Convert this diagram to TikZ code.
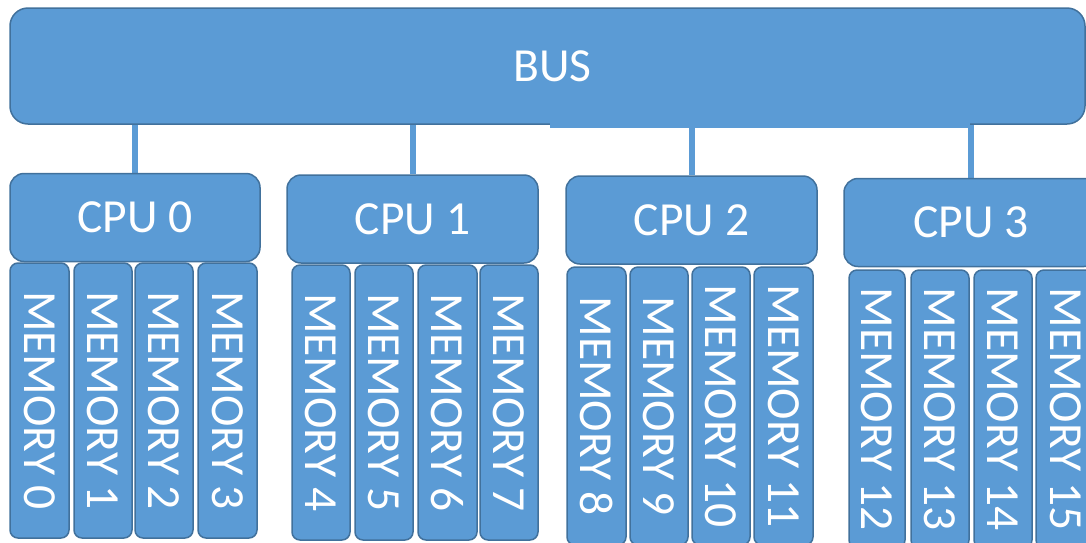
\documentclass[tikz,border=0pt]{standalone}
\usepackage{fontspec}
\setmainfont{Carlito}
\usetikzlibrary{backgrounds}
\definecolor{boxfill}{HTML}{5B9BD5}
\definecolor{boxedge}{HTML}{41719C}
\begin{document}
\begin{tikzpicture}[x=1pt,y=-1pt,
  box/.style={draw=boxedge, fill=boxfill, line width=1.5pt, text=white,
    inner sep=0pt, font=\fontsize{47.5}{52}\selectfont},
  busbox/.style={box, rounded corners=18pt, minimum width=1075pt, minimum height=116pt},
  cpubox/.style={box, rounded corners=14pt, minimum height=88pt},
  membox/.style={box, rounded corners=8pt, rotate=-90, minimum height=58pt},
  conn/.style={draw=boxfill, line width=6pt}]
\useasboundingbox (0,0) rectangle (1086,542);
\clip (0,0) rectangle (1086,542);

\node[busbox] (bus) at (547.5,66) {\hspace{10pt}BUS};
\fill[boxfill] (550,119) rectangle (970,128);

\node[cpubox, minimum width=250pt] (cpu0) at (135,217.5) {CPU 0};
\node[cpubox, minimum width=251pt] (cpu1) at (412.5,219) {CPU 1};
\node[cpubox, minimum width=251pt] (cpu2) at (691.5,220) {CPU 2};
\node[cpubox, minimum width=254pt] (cpu3) at (971,222.5) {CPU 3};

\begin{pgfonlayer}{background}
\foreach \c in {cpu0,cpu1,cpu2,cpu3}
  \draw[conn] (bus.south -| \c.north) -- (\c.north);
\end{pgfonlayer}

\node[membox, minimum width=275pt, minimum height=59pt] (m0) at (39.5,400.5) {MEMORY 0};
\node[membox, minimum width=275pt] (m1) at (103,400.5) {MEMORY 1};
\node[membox, minimum width=275pt] (m2) at (164,400.5) {MEMORY 2};
\node[membox, minimum width=275pt, minimum height=59pt] (m3) at (227.5,400.5) {MEMORY 3};

\node[membox, minimum width=275pt] (m4) at (321,402.5) {MEMORY 4};
\node[membox, minimum width=275pt] (m5) at (384,402.5) {MEMORY 5};
\node[membox, minimum width=275pt, minimum height=59pt] (m6) at (447.5,402.5) {MEMORY 6};
\node[membox, minimum width=275pt] (m7) at (509,402.5) {MEMORY 7};

\node[membox, minimum width=278pt, minimum height=59pt] (m8) at (596.5,406) {MEMORY 8};
\node[membox, minimum width=278pt] (m9) at (659,406) {MEMORY 9};
\node[membox, minimum width=278pt] (m10) at (721,406) {MEMORY 10};
\node[membox, minimum width=278pt, minimum height=59pt] (m11) at (783.5,406) {MEMORY 11};

\node[membox, minimum width=278pt, minimum height=56pt] (m12) at (877,409) {MEMORY 12};
\node[membox, minimum width=278pt] (m13) at (940,409) {MEMORY 13};
\node[membox, minimum width=278pt] (m14) at (1003,409) {MEMORY 14};
\node[membox, minimum width=278pt, minimum height=59pt] (m15) at (1065.5,409) {MEMORY 15};
\end{tikzpicture}
\end{document}
